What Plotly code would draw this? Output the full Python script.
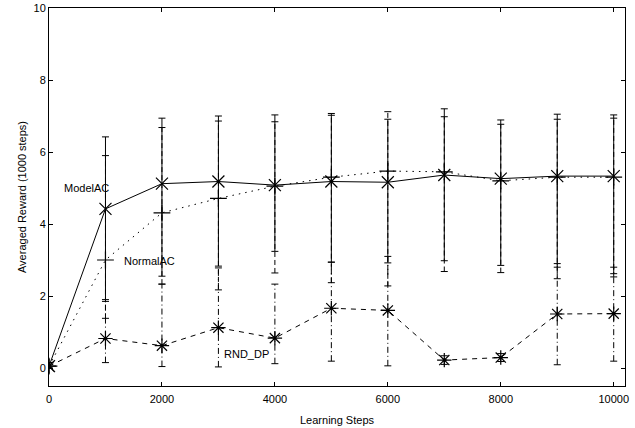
import plotly.graph_objects as go

steps = [0, 1000, 2000, 3000, 4000, 5000, 6000, 7000, 8000, 9000, 10000]

model_ac = [0.05, 4.42, 5.12, 5.18, 5.08, 5.18, 5.16, 5.36, 5.26, 5.33, 5.33]
model_lo = [0.0, 1.90, 2.55, 2.83, 3.24, 2.94, 2.92, 2.98, 2.85, 2.80, 2.62]
model_hi = [0.15, 6.42, 6.94, 7.00, 7.03, 7.07, 6.91, 7.20, 6.89, 7.05, 7.03]

normal_ac = [0.05, 3.00, 4.31, 4.71, 5.05, 5.30, 5.47, 5.45, 5.20, 5.30, 5.30]
normal_lo = [0.0, 1.38, 2.33, 2.17, 2.64, 2.37, 2.28, 2.68, 2.65, 2.48, 2.53]
normal_hi = [0.15, 5.90, 6.68, 6.86, 6.84, 7.02, 7.12, 6.98, 6.77, 6.91, 6.94]

rnd_dp = [0.05, 0.82, 0.62, 1.12, 0.83, 1.66, 1.60, 0.22, 0.29, 1.50, 1.51]
rnd_lo = [0.0, 0.15, 0.04, 0.03, 0.12, 0.19, 0.06, 0.10, 0.18, 0.09, 0.19]
rnd_hi = [0.15, 1.85, 2.33, 2.78, 2.33, 2.94, 3.10, 0.34, 0.40, 2.90, 2.80]

labels = ["ModelAC", "NormalAC", "RND_DP"]
label_x = [670, 1290, 3060]
label_y = [5.0, 2.98, 0.39]

x_ticks = [0, 2000, 4000, 6000, 8000, 10000]
x_tick_text = ["0", "2000", "4000", "6000", "8000", "10000"]
y_ticks = [0, 2, 4, 6, 8, 10]

FONT = "Liberation Sans, Arial, Helvetica, sans-serif"

fig = go.Figure()


def add_errbars(lo, hi, dash):
    xs, ys = [], []
    for x, a, b in zip(steps, lo, hi):
        xs += [x, x, None]
        ys += [a, b, None]
    fig.add_trace(go.Scatter(x=xs, y=ys, mode="lines",
                             line=dict(color="black", width=1, dash=dash),
                             hoverinfo="skip", showlegend=False))
    fig.add_trace(go.Scatter(x=steps + steps, y=lo + hi, mode="markers",
                             marker=dict(symbol="line-ew-open", size=5, color="black",
                                         line=dict(color="black", width=1)),
                             hoverinfo="skip", showlegend=False))


add_errbars(rnd_lo, rnd_hi, "6px,3px,1px,3px")
add_errbars(normal_lo, normal_hi, "5px,3px")
add_errbars(model_lo, model_hi, "solid")

fig.add_trace(go.Scatter(x=steps, y=normal_ac, mode="lines+markers", name="NormalAC",
                         line=dict(color="black", width=1, dash="1.5px,5px"),
                         marker=dict(symbol="cross-thin-open", size=12, color="black",
                                     line=dict(color="black", width=1.2))))
fig.add_trace(go.Scatter(x=steps, y=rnd_dp, mode="lines+markers", name="RND_DP",
                         line=dict(color="black", width=1, dash="5px,5px"),
                         marker=dict(symbol="asterisk-open", size=12, color="black",
                                     line=dict(color="black", width=1.2))))
fig.add_trace(go.Scatter(x=steps, y=model_ac, mode="lines+markers", name="ModelAC",
                         line=dict(color="black", width=1),
                         marker=dict(symbol="x-thin-open", size=12, color="black",
                                     line=dict(color="black", width=1.2))))

for t, lx, ly in zip(labels, label_x, label_y):
    fig.add_annotation(x=lx, y=ly, text=t, showarrow=False,
                       xanchor="center" if t == "ModelAC" else "left",
                       yanchor="middle",
                       font=dict(family=FONT, size=11, color="black"))

axis_common = dict(showline=True, linecolor="black", linewidth=1, mirror="ticks",
                   ticks="inside", ticklen=4, tickcolor="black", showgrid=False,
                   zeroline=False, automargin=False,
                   tickfont=dict(family=FONT, size=11, color="black"))

fig.update_layout(
    width=635, height=428,
    margin=dict(l=49, r=10, t=8, b=42),
    paper_bgcolor="white", plot_bgcolor="white",
    showlegend=False,
    xaxis=dict(range=[0, 10200], tickvals=x_ticks, ticktext=x_tick_text,
               ticklabelstandoff=3,
               title=dict(text="Learning Steps", font=dict(family=FONT, size=11, color="black"),
                          standoff=12),
               **axis_common),
    yaxis=dict(range=[-0.5, 10], tickvals=y_ticks,
               title=dict(text="Averaged Reward (1000 steps)",
                          font=dict(family=FONT, size=11, color="black"), standoff=4),
               **axis_common),
)

fig.write_html("out.html")
